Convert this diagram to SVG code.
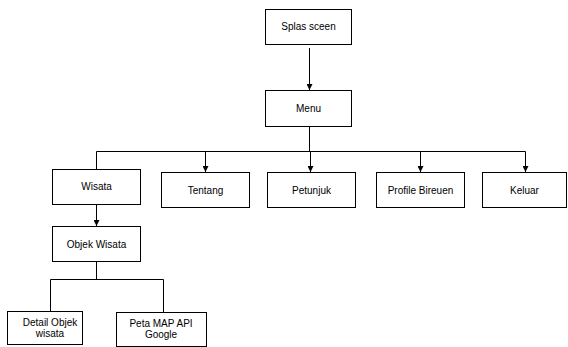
<svg xmlns="http://www.w3.org/2000/svg" width="568" height="347" viewBox="0 0 568 347">
<defs>
<style>
rect{fill:#fff;stroke:#000;stroke-width:1}
text{font-family:"Liberation Sans",Arial,sans-serif;font-size:10px;fill:#000;text-anchor:middle}
.c path{fill:none;stroke:#000;stroke-width:1}
</style>
<marker id="ah" viewBox="0 0 10 10" refX="10" refY="5" markerWidth="6" markerHeight="6" markerUnits="userSpaceOnUse" orient="auto"><path d="M0,0 L10,5 L0,10 z" fill="#000"/></marker>
</defs>
<rect x="0" y="0" width="568" height="347" style="fill:#fff;stroke:none"/>
<g class="c" id="connectors">
<path d="M309.5,48 V90" marker-end="url(#ah)"/>
<path d="M309.5,127 V151.5"/>
<path d="M96.5,151.5 H525.5"/>
<path d="M96.5,151.5 V169"/>
<path d="M205.5,151.5 V172" marker-end="url(#ah)"/>
<path d="M310.5,151.5 V172" marker-end="url(#ah)"/>
<path d="M420.5,151.5 V172" marker-end="url(#ah)"/>
<path d="M525.5,151.5 V172" marker-end="url(#ah)"/>
<path d="M96.5,204 V226" marker-end="url(#ah)"/>
<path d="M96.5,262 V279.5"/>
<path d="M50.5,279.5 H163.5"/>
<path d="M50.5,279.5 V311"/>
<path d="M163.5,279.5 V312"/>
</g>
<g id="splas"><rect x="265.5" y="9.5" width="86" height="35"/><text x="308.5" y="30">Splas sceen</text></g>
<g id="menu"><rect x="265.5" y="90.5" width="86" height="36"/><text x="308.5" y="112">Menu</text></g>
<g id="wisata"><rect x="52.5" y="169.5" width="88" height="35"/><text x="96.5" y="190">Wisata</text></g>
<g id="tentang"><rect x="161.5" y="172.5" width="88" height="35"/><text x="205.5" y="193.5">Tentang</text></g>
<g id="petunjuk"><rect x="267.5" y="172.5" width="88" height="35"/><text x="311.5" y="193.5">Petunjuk</text></g>
<g id="profile"><rect x="376.5" y="172.5" width="88" height="35"/><text x="420.5" y="193.5">Profile Bireuen</text></g>
<g id="keluar"><rect x="482.5" y="172.5" width="84" height="35"/><text x="524.5" y="193.5">Keluar</text></g>
<g id="objek"><rect x="52.5" y="226.5" width="88" height="35"/><text x="96.5" y="248">Objek Wisata</text></g>
<g id="detail"><rect x="7.5" y="311.5" width="75" height="33"/><text x="50" y="325.5">Detail Objek</text><text x="50" y="336.5">wisata</text></g>
<g id="peta"><rect x="116.5" y="312.5" width="90" height="34"/><text x="161" y="326.5">Peta MAP API</text><text x="161" y="337.5">Google</text></g>
</svg>
